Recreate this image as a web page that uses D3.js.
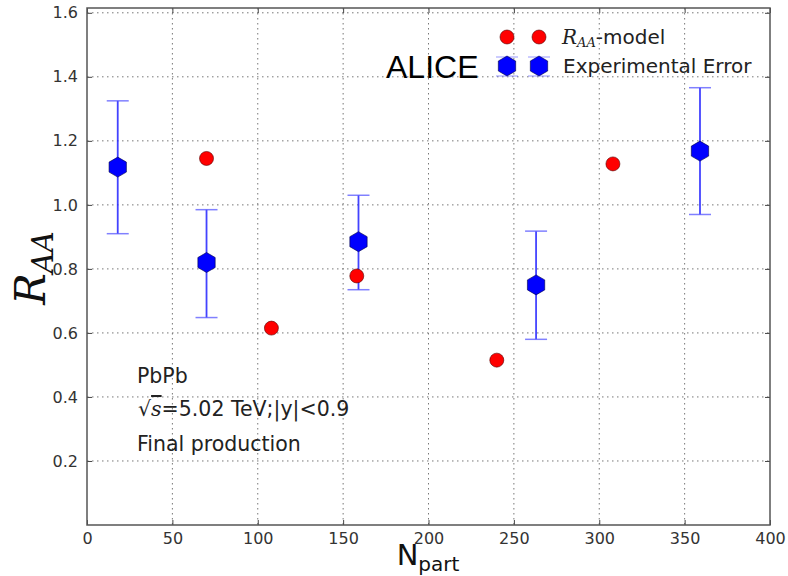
<!DOCTYPE html>
<html>
<head>
<meta charset="utf-8">
<script src="https://cdn.jsdelivr.net/npm/d3@7"></script>
<style>
  body { margin: 0; background: #fff; }
  svg { display: block; }
  .tick text { font-family: "DejaVu Sans", sans-serif; font-size: 16px; fill: #333; }
</style>
</head>
<body>
<svg id="chart" width="788" height="576"></svg>
<script>
// Model points: N_part and R_AA
const modelNpart = [70, 108, 158, 240, 308];
const modelRaa   = [1.145, 0.615, 0.778, 0.515, 1.128];

// Measured points with lower/upper error bounds
const expNpart = [18, 70, 159, 263, 359];
const expRaa   = [1.118, 0.82, 0.885, 0.75, 1.168];
const expLow   = [0.91, 0.648, 0.735, 0.58, 0.97];
const expHigh  = [1.325, 0.985, 1.03, 0.918, 1.366];

const xTicks = [0, 50, 100, 150, 200, 250, 300, 350, 400];
const yTicks = [0.2, 0.4, 0.6, 0.8, 1.0, 1.2, 1.4, 1.6];

const svg = d3.select("#chart");
const pLeft = 87, pRight = 770, pTop = 8, pBottom = 525;

const x = d3.scaleLinear().domain([0, 400]).range([pLeft, pRight]);
const y = d3.scaleLinear().domain([0, 1.615]).range([pBottom, pTop]);

// grid
const grid = svg.append("g").attr("stroke", "#777").attr("stroke-width", 1)
  .attr("stroke-dasharray", "1.5,3.5").attr("fill", "none");
xTicks.slice(1, -1).forEach(t => grid.append("line")
  .attr("x1", x(t)).attr("x2", x(t)).attr("y1", pTop).attr("y2", pBottom));
yTicks.forEach(t => grid.append("line")
  .attr("x1", pLeft).attr("x2", pRight).attr("y1", y(t)).attr("y2", y(t)));

// axes with inward ticks
const axB = svg.append("g").attr("transform", `translate(0,${pBottom})`)
  .call(d3.axisBottom(x).tickValues(xTicks).tickSizeInner(-5).tickSizeOuter(0).tickPadding(8));
const axT = svg.append("g").attr("transform", `translate(0,${pTop})`)
  .call(d3.axisTop(x).tickValues(xTicks).tickSizeInner(-5).tickSizeOuter(0).tickFormat(""));
const axL = svg.append("g").attr("transform", `translate(${pLeft},0)`)
  .call(d3.axisLeft(y).tickValues(yTicks).tickSizeInner(-5).tickSizeOuter(0).tickPadding(9).tickFormat(d3.format(".1f")));
const axR = svg.append("g").attr("transform", `translate(${pRight},0)`)
  .call(d3.axisRight(y).tickValues(yTicks).tickSizeInner(-5).tickSizeOuter(0).tickFormat(""));
[axB, axT, axL, axR].forEach(a => {
  a.select(".domain").remove();
  a.selectAll(".tick line").attr("stroke", "#444");
});

// frame
svg.append("rect").attr("x", pLeft).attr("y", pTop)
  .attr("width", pRight - pLeft).attr("height", pBottom - pTop)
  .attr("fill", "none").attr("stroke", "#555").attr("stroke-width", 1.5);

// hexagon marker path
function hexPath(r) {
  const pts = d3.range(6).map(i => {
    const a = Math.PI / 2 + i * Math.PI / 3;
    return [r * Math.cos(a), r * Math.sin(a)];
  });
  return "M" + pts.map(p => p.join(",")).join("L") + "Z";
}

// error bars
const eb = svg.append("g");
expNpart.forEach((n, i) => {
  eb.append("line").attr("x1", x(n)).attr("x2", x(n))
    .attr("y1", y(expLow[i])).attr("y2", y(expHigh[i]))
    .attr("stroke", "#2222ff").attr("stroke-opacity", 0.85).attr("stroke-width", 1.8);
  [expLow[i], expHigh[i]].forEach(v => eb.append("line")
    .attr("x1", x(n) - 11).attr("x2", x(n) + 11).attr("y1", y(v)).attr("y2", y(v))
    .attr("stroke", "#5555ff").attr("stroke-opacity", 0.75).attr("stroke-width", 1.5));
});

// measured markers
svg.append("g").selectAll("path").data(expNpart).join("path")
  .attr("transform", (d, i) => `translate(${x(d)},${y(expRaa[i])})`)
  .attr("d", hexPath(10)).attr("fill", "#0000ff")
  .attr("stroke", "#000044").attr("stroke-width", 0.6).attr("stroke-linejoin", "round");

// model markers
svg.append("g").selectAll("circle").data(modelNpart).join("circle")
  .attr("cx", d => x(d)).attr("cy", (d, i) => y(modelRaa[i])).attr("r", 7)
  .attr("fill", "#ff0000").attr("stroke", "#550000").attr("stroke-width", 0.6);

// legend
const lg = svg.append("g");
[507, 539].forEach(cx => {
  lg.append("circle").attr("cx", cx).attr("cy", 37).attr("r", 7)
    .attr("fill", "#ff0000").attr("stroke", "#550000").attr("stroke-width", 0.6);
  [57, 76].forEach(cy => lg.append("line").attr("x1", cx - 11).attr("x2", cx + 11)
    .attr("y1", cy).attr("y2", cy).attr("stroke", "#5555ff").attr("stroke-opacity", 0.5).attr("stroke-width", 1.2));
  lg.append("path").attr("transform", `translate(${cx},66)`).attr("d", hexPath(10))
    .attr("fill", "#0000ff").attr("stroke", "#000044").attr("stroke-width", 0.6);
});
const lt1 = lg.append("text").attr("x", 562).attr("y", 44)
  .attr("font-family", "DejaVu Sans, sans-serif").attr("font-size", 20).attr("fill", "#222");
lt1.append("tspan").attr("font-family", "DejaVu Serif, serif").attr("font-style", "italic").text("R");
lt1.append("tspan").attr("font-family", "DejaVu Serif, serif").attr("font-style", "italic")
  .attr("font-size", 13).attr("dy", 3).text("AA");
lt1.append("tspan").attr("dy", -3).text("-model");
lg.append("text").attr("x", 563).attr("y", 73)
  .attr("font-family", "DejaVu Sans, sans-serif").attr("font-size", 20).attr("fill", "#222")
  .text("Experimental Error");

svg.append("text").attr("x", 386).attr("y", 78)
  .attr("font-family", "Liberation Sans, Arial, sans-serif").attr("font-size", 32).attr("fill", "#000")
  .text("ALICE");

// annotations
const ann = svg.append("g").attr("font-family", "DejaVu Sans, sans-serif")
  .attr("font-size", 20.5).attr("fill", "#222");
ann.append("text").attr("x", 137).attr("y", 383).text("PbPb");
const s = ann.append("text").attr("x", 138).attr("y", 416);
s.append("tspan").attr("font-family", "DejaVu Serif, serif").text("√");
s.append("tspan").attr("font-family", "DejaVu Serif, serif").attr("font-style", "italic")
  .attr("text-decoration", "overline").text("s");
s.append("tspan").text("=5.02 TeV;|y|<0.9");
ann.append("text").attr("x", 137).attr("y", 451).text("Final production");

// axis titles
const xl = svg.append("text").attr("x", 428).attr("y", 565).attr("text-anchor", "middle")
  .attr("font-family", "DejaVu Sans, sans-serif").attr("font-size", 29).attr("fill", "#111");
xl.append("tspan").text("N");
xl.append("tspan").attr("font-size", 20).attr("dy", 6).text("part");

const yl = svg.append("text").attr("transform", "translate(45,268) rotate(-90)")
  .attr("text-anchor", "middle").attr("font-family", "DejaVu Serif, serif")
  .attr("font-style", "italic").attr("font-size", 42).attr("fill", "#111");
yl.append("tspan").text("R");
yl.append("tspan").attr("font-size", 29).attr("dy", 8).text("AA");
</script>
</body>
</html>
